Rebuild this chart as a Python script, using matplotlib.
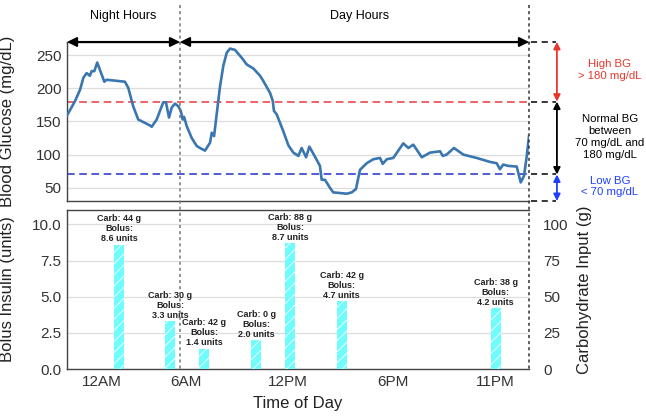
import numpy as np
import matplotlib
matplotlib.use("Agg")
import matplotlib.pyplot as plt
from matplotlib.lines import Line2D

plt.rcParams['font.family'] = ['Liberation Sans', 'DejaVu Sans']

# blood glucose trace (time in hours on the chart's axis, mg/dL)
bg_time = [0.0, 0.42, 0.68, 0.85, 1.02, 1.19, 1.28, 1.42, 1.57, 1.94, 2.06, 3.01, 3.18,
           3.44, 3.70, 4.31, 4.40, 4.66, 5.00, 5.14, 5.30, 5.44, 5.61, 5.78, 5.91, 6.01,
           6.08, 6.22, 6.48, 6.74, 6.91, 7.17, 7.43, 7.52, 7.64, 7.95, 8.12, 8.30, 8.47,
           8.73, 9.08, 9.34, 9.68, 10.03, 10.20, 10.55, 10.69, 10.75, 10.89, 11.24, 11.50,
           11.76, 12.02, 12.19, 12.42, 12.59, 12.88, 13.14, 13.23, 13.40, 13.66, 13.83,
           14.18, 14.53, 14.79, 15.01, 15.22, 15.57, 15.91, 16.26, 16.40, 16.61, 16.95,
           17.47, 17.73, 17.99, 18.43, 18.86, 19.38, 19.52, 19.72, 20.10, 20.59, 21.28,
           21.97, 22.32, 22.49, 22.66, 22.92, 23.36, 23.57, 23.74, 23.88, 24.0]
bg_value = [159, 181, 198, 216, 223, 219, 226, 226, 239, 210, 213, 210, 201,
            173, 153, 144, 142, 153, 179, 179, 156, 171, 177, 173, 166, 153,
            157, 143, 125, 113, 110, 106, 118, 133, 128, 203, 234, 254, 260,
            258, 246, 236, 230, 219, 211, 193, 181, 166, 161, 135, 114,
            103, 98, 110, 96, 112, 97, 83, 62, 62, 50, 43,
            42, 41, 43, 48, 77, 87, 93, 95, 86, 93, 95,
            117, 110, 115, 96, 103, 105, 98, 100, 110, 100, 95,
            89, 87, 78, 85, 83, 82, 58, 68, 97, 128]

# boluses
bolus_time = [2.70, 5.35, 7.14, 9.82, 11.58, 14.26, 22.26]
bolus_units = [8.6, 3.3, 1.4, 2.0, 8.7, 4.7, 4.2]
carbs_g = [44, 30, 42, 0, 88, 42, 38]

tick_pos = [1.82, 6.18, 11.48, 16.94, 22.23]
tick_labels = ['12AM', '6AM', '12PM', '6PM', '11PM']
night_end = 5.87
day_end = 24.0
high_bg = 180
low_bg = 70
bg_lim = (30, 270)

fig = plt.figure(figsize=(6.46, 4.19), dpi=100)
ax1 = fig.add_axes([0.1037, 0.5203, 0.7152, 0.3795])
ax2 = fig.add_axes([0.1037, 0.1193, 0.7152, 0.3795])

spine_c = '#444444'
for ax in (ax1, ax2):
    ax.set_xlim(0, 24)
    ax.grid(axis='y', color='#dddddd', lw=0.9)
    ax.set_axisbelow(True)
    ax.spines['right'].set_visible(False)
    for s in ('left', 'bottom', 'top'):
        ax.spines[s].set_color(spine_c)
        ax.spines[s].set_linewidth(1.0)
    ax.tick_params(length=0, labelsize=11, colors='#333333', pad=4)

# glucose panel
ax1.plot(bg_time, bg_value, color='#3a76af', lw=1.9, zorder=3)
ax1.axhline(high_bg, color='#e8383d', ls=(0, (5, 3)), lw=1.1)
ax1.axhline(low_bg, color='#2030c8', ls=(0, (5, 3)), lw=1.1)
ax1.set_ylim(*bg_lim)
ax1.set_yticks([50, 100, 150, 200, 250])
ax1.set_xticks([])
ax1.set_ylabel('Blood Glucose (mg/dL)', fontsize=12, color='#222222')
ax1.yaxis.set_label_coords(-0.113, 0.5)

# night / day arrows along top
arrow_kw = dict(arrowstyle='<|-|>', color='black', lw=1.5, shrinkA=0, shrinkB=0,
                mutation_scale=14)
ax1.annotate('', xy=(0, bg_lim[1]), xytext=(night_end, bg_lim[1]),
             arrowprops=arrow_kw, annotation_clip=False)
ax1.annotate('', xy=(night_end, bg_lim[1]), xytext=(day_end, bg_lim[1]),
             arrowprops=arrow_kw, annotation_clip=False)
fig.text(0.19, 0.962, 'Night Hours', ha='center', va='center', fontsize=9)
fig.text(0.557, 0.962, 'Day Hours', ha='center', va='center', fontsize=9)

# right side range markers
for lvl in (bg_lim[1], high_bg, low_bg, bg_lim[0]):
    ax1.plot([24.1, 25.4], [lvl, lvl], color='black', ls=(0, (4, 3)), lw=1.1,
             clip_on=False)
xa = 25.45
for (y0, y1, c) in ((bg_lim[1], high_bg, '#e8372c'), (high_bg, low_bg, 'black'),
                    (low_bg, bg_lim[0], '#1f3fff')):
    ax1.annotate('', xy=(xa, y0), xytext=(xa, y1),
                 arrowprops=dict(arrowstyle='<|-|>', color=c, lw=1.3, shrinkA=0,
                                 shrinkB=0, mutation_scale=10),
                 annotation_clip=False)
ax1.text(28.2, 228, 'High BG\n> 180 mg/dL', color='#e8372c', ha='center', va='center',
         fontsize=8.2, clip_on=False)
ax1.text(28.2, 126, 'Normal BG\nbetween\n70 mg/dL and\n180 mg/dL', color='black',
         ha='center', va='center', fontsize=8.2, clip_on=False, linespacing=1.25)
ax1.text(28.2, 52, 'Low BG\n< 70 mg/dL', color='#1f3fff', ha='center', va='center',
         fontsize=8.2, clip_on=False)

# bolus panel
plt.rcParams['hatch.color'] = 'white'
plt.rcParams['hatch.linewidth'] = 0.6
ax2.bar(bolus_time, bolus_units, width=0.52, color='#6ffcfc', hatch='///',
        edgecolor='white', lw=0, zorder=3)
for t, u, c in zip(bolus_time, bolus_units, carbs_g):
    ax2.text(t, u + 0.1, f'Carb: {c} g\nBolus:\n{u} units', ha='center', va='bottom',
             fontsize=6.5, fontweight='bold', color='#222222', linespacing=1.15,
             zorder=4)
ax2.set_ylim(0, 11)
ax2.set_yticks([0, 2.5, 5, 7.5, 10])
ax2.set_xticks(tick_pos)
ax2.set_xticklabels(tick_labels)
ax2.set_ylabel('Bolus Insulin (units)', fontsize=12, color='#222222')
ax2.yaxis.set_label_coords(-0.113, 0.5)
ax2.set_xlabel('Time of Day', fontsize=12, color='#222222')
ax2.xaxis.set_label_coords(0.5, -0.17)

ax3 = ax2.twinx()
ax3.set_ylim(0, 110)
ax3.set_yticks([0, 25, 50, 75, 100])
for s in ax3.spines.values():
    s.set_visible(False)
ax3.tick_params(length=0, labelsize=11, colors='#333333', pad=10)
ax3.set_ylabel('Carbohydrate Input (g)', fontsize=12, color='#222222')
ax3.yaxis.set_label_coords(1.104, 0.5)

# vertical dotted separators
for xpx, c in ((180, '#777777'), (529, '#333333')):
    xf = xpx / 646
    fig.add_artist(Line2D([xf, xf], [1 - 5 / 419, 1 - 369 / 419], color=c,
                          ls=(0, (2, 2)), lw=1.1))

fig.savefig('out.png', dpi=100)
